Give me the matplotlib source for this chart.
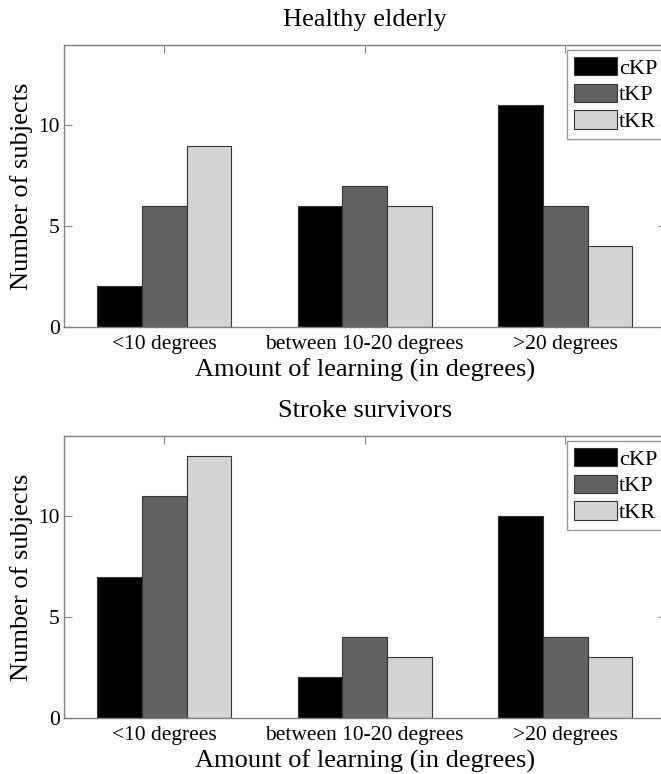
import matplotlib
matplotlib.use("Agg")
import matplotlib.pyplot as plt
import numpy as np

plt.rcParams['font.family'] = ['Liberation Serif', 'DejaVu Serif']

categories = ['<10 degrees', 'between 10-20 degrees', '>20 degrees']
groups = ['cKP', 'tKP', 'tKR']
colors = ['#000000', '#626262', '#d4d4d4']

healthy_ckp = [2, 6, 11]
healthy_tkp = [6, 7, 6]
healthy_tkr = [9, 6, 4]

stroke_ckp = [7, 2, 10]
stroke_tkp = [11, 4, 4]
stroke_tkr = [13, 3, 3]

panels = [
    ('Healthy elderly', [healthy_ckp, healthy_tkp, healthy_tkr]),
    ('Stroke survivors', [stroke_ckp, stroke_tkp, stroke_tkr]),
]

W, H = 661, 774
fig = plt.figure(figsize=(W / 100, H / 100), dpi=100)

ax_left = 64 / W
ax_width = 601.5 / W
ax_height = 281.7 / H
bottoms = [(H - 326.7) / H, (H - 717.7) / H]

x = np.arange(1, len(categories) + 1)
bar_w = 0.222
spine_col = '#808080'

for (title, series), b in zip(panels, bottoms):
    ax = fig.add_axes([ax_left, b, ax_width, ax_height])
    for i, (vals, name, col) in enumerate(zip(series, groups, colors)):
        ax.bar(x + (i - 1) * bar_w, vals, width=bar_w, color=col,
               edgecolor='#333333', linewidth=0.8, label=name, zorder=2)
    ax.set_xlim(0.5, 3.5)
    ax.set_ylim(0, 14)
    ax.set_xticks(x)
    ax.set_xticklabels(categories)
    ax.set_yticks([0, 5, 10])
    ax.tick_params(direction='in', length=6, width=0.8, color=spine_col,
                   labelsize=15.5, top=True, right=True)
    ax.tick_params(axis='x', pad=6)
    ax.tick_params(axis='y', pad=3)
    for sp in ax.spines.values():
        sp.set_color(spine_col)
        sp.set_linewidth(1.0)
    ax.set_xlabel('Amount of learning (in degrees)', fontsize=19, labelpad=3)
    ax.set_ylabel('Number of subjects', fontsize=19, labelpad=4)
    ax.set_title(title, fontsize=19, pad=14)
    leg = ax.legend(loc='upper left', bbox_to_anchor=(0.836, 0.982),
                    fontsize=16, frameon=True, fancybox=False,
                    handlelength=1.95, handleheight=0.9, handletextpad=0.1,
                    labelspacing=0.22, borderpad=0.3, borderaxespad=0.0)
    leg.get_frame().set_edgecolor(spine_col)
    leg.get_frame().set_linewidth(1.0)

fig.savefig('out.png', dpi=100)
